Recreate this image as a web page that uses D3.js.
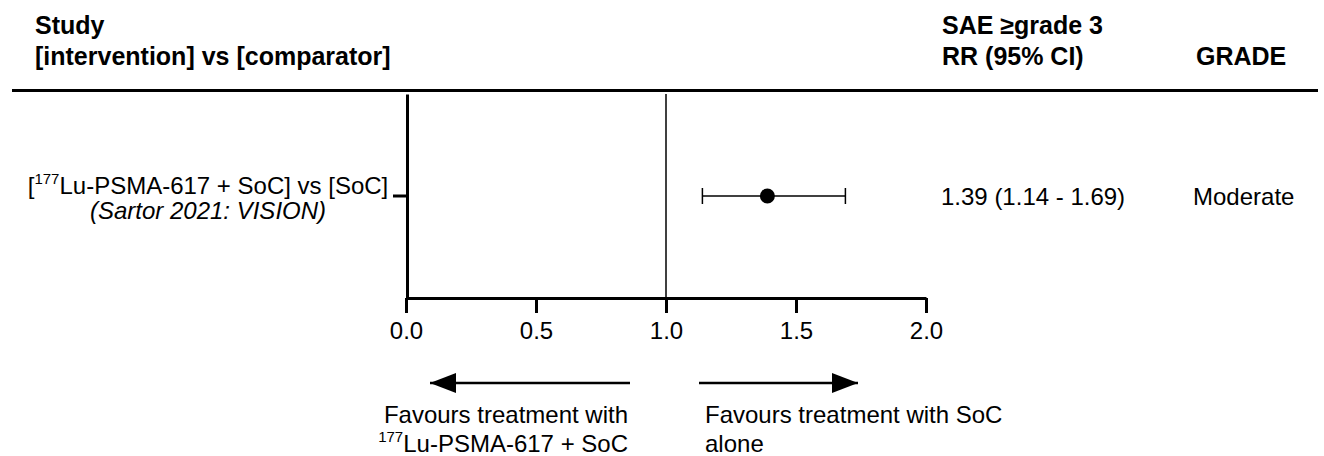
<!DOCTYPE html>
<html>
<head>
  <meta charset="utf8" />
  <style>
    body {
      margin: 0;
      background: #fff;
    }
    text {
      font-family: "Liberation Sans", Arial, Helvetica, sans-serif;
      fill: #000;
    }
    .head {
      font-size: 25px;
      font-weight: bold;
    }
    .body {
      font-size: 24px;
    }
  </style>
</head>
<body>
  <script src="https://d3js.org/d3.v7.min.js"></script>
  <script>
    // data
    var isotopes = ["177"],
        studies = ["Lu-PSMA-617 + SoC] vs [SoC]"],
        refs = ["(Sartor 2021: VISION)"],
        rr = [1.39],
        lower = [1.14],
        upper = [1.69],
        grades = ["Moderate"],
        xTicks = [0, 0.5, 1, 1.5, 2];

    var width = 1324,
        height = 456;

    var svg = d3.select("body").append("svg")
        .attr("width", width)
        .attr("height", height);

    var x = d3.scaleLinear().domain([0, 2]).range([406, 926]);
    var y = d3.scaleBand().domain(d3.range(studies.length)).range([94, 298]);
    var fmt = d3.format(".2f");

    // headers
    var head = svg.append("g").attr("class", "head");
    head.append("text").attr("x", 35).attr("y", 34).text("Study");
    head.append("text").attr("x", 35).attr("y", 65).text("[intervention] vs [comparator]");
    head.append("text").attr("x", 942).attr("y", 34).text("SAE \u2265grade 3");
    head.append("text").attr("x", 942).attr("y", 65).text("RR (95% CI)");
    head.append("text").attr("x", 1196).attr("y", 65).text("GRADE");

    svg.append("line")
        .attr("x1", 12).attr("x2", 1318)
        .attr("y1", 90.5).attr("y2", 90.5)
        .attr("stroke", "#000").attr("stroke-width", 3);

    // line of no effect
    svg.append("line")
        .attr("x1", x(1)).attr("x2", x(1))
        .attr("y1", 94).attr("y2", 298)
        .attr("stroke", "#000").attr("stroke-width", 1.5);

    // axes
    var xAxis = svg.append("g")
        .attr("transform", "translate(0,298)")
        .call(d3.axisBottom(x).tickValues(xTicks).tickFormat(d3.format(".1f"))
          .tickSize(15).tickSizeOuter(0).tickPadding(9));
    xAxis.selectAll("path, line").attr("stroke", "#000").attr("stroke-width", 3);
    xAxis.selectAll("text")
        .attr("font-size", 24)
        .attr("font-family", "\"Liberation Sans\", Arial, sans-serif");

    var yAxis = svg.append("g")
        .attr("transform", "translate(" + 407 + ",0)")
        .call(d3.axisLeft(y).tickSize(14).tickSizeOuter(0).tickFormat(""));
    yAxis.selectAll("path, line").attr("stroke", "#000").attr("stroke-width", 3);

    // row labels
    var rows = svg.selectAll(".row")
        .data(studies)
      .enter().append("g")
        .attr("class", "row body");

    var cy = function(i) { return y(i) + y.bandwidth() / 2; };

    var lab = rows.append("text")
        .attr("x", 208)
        .attr("y", (d, i) => cy(i) - 2)
        .attr("text-anchor", "middle");
    lab.append("tspan").text("[");
    lab.append("tspan").attr("font-size", 15).attr("dy", -10).text((d, i) => isotopes[i]);
    lab.append("tspan").attr("dy", 10).text(d => d);

    rows.append("text")
        .attr("x", 208)
        .attr("y", (d, i) => cy(i) + 23)
        .attr("text-anchor", "middle")
        .attr("font-style", "italic")
        .text((d, i) => refs[i]);

    // CI whiskers, caps and point
    rows.append("line")
        .attr("x1", (d, i) => x(lower[i])).attr("x2", (d, i) => x(upper[i]))
        .attr("y1", (d, i) => cy(i)).attr("y2", (d, i) => cy(i))
        .attr("stroke", "#000").attr("stroke-width", 1.5);
    rows.selectAll(".cap")
        .data((d, i) => [[lower[i], i], [upper[i], i]])
      .enter().append("line")
        .attr("x1", d => x(d[0])).attr("x2", d => x(d[0]))
        .attr("y1", d => cy(d[1]) - 8).attr("y2", d => cy(d[1]) + 8)
        .attr("stroke", "#000").attr("stroke-width", 1.5);
    rows.append("circle")
        .attr("cx", (d, i) => x(rr[i]))
        .attr("cy", (d, i) => cy(i))
        .attr("r", 7.5)
        .attr("fill", "#000");

    rows.append("text")
        .attr("x", 941)
        .attr("y", (d, i) => cy(i) + 9)
        .text((d, i) => fmt(rr[i]) + " (" + fmt(lower[i]) + " - " + fmt(upper[i]) + ")");
    rows.append("text")
        .attr("x", 1193)
        .attr("y", (d, i) => cy(i) + 9)
        .text((d, i) => grades[i]);

    // direction arrows
    var arrowY = 383;
    var defs = svg.append("defs");
    defs.append("marker")
        .attr("id", "head")
        .attr("viewBox", "0 0 26 20")
        .attr("refX", 26).attr("refY", 10)
        .attr("markerWidth", 26).attr("markerHeight", 20)
        .attr("markerUnits", "userSpaceOnUse")
        .attr("orient", "auto")
      .append("path")
        .attr("d", "M0,0L26,10L0,20Z")
        .attr("fill", "#000");

    svg.append("line")
        .attr("x1", 630).attr("x2", 430)
        .attr("y1", arrowY).attr("y2", arrowY)
        .attr("stroke", "#000").attr("stroke-width", 2.5)
        .attr("marker-end", "url(#head)");
    svg.append("line")
        .attr("x1", 699).attr("x2", 858)
        .attr("y1", arrowY).attr("y2", arrowY)
        .attr("stroke", "#000").attr("stroke-width", 2.5)
        .attr("marker-end", "url(#head)");

    var foot = svg.append("g").attr("class", "body");
    foot.append("text").attr("x", 628).attr("y", 423)
        .attr("text-anchor", "end").text("Favours treatment with");
    var f2 = foot.append("text").attr("x", 628).attr("y", 452)
        .attr("text-anchor", "end");
    f2.append("tspan").attr("font-size", 15).attr("dy", -10).text(isotopes[0]);
    f2.append("tspan").attr("dy", 10).text("Lu-PSMA-617 + SoC");
    foot.append("text").attr("x", 705).attr("y", 423).text("Favours treatment with SoC");
    foot.append("text").attr("x", 705).attr("y", 452).text("alone");
  </script>
</body>
</html>
